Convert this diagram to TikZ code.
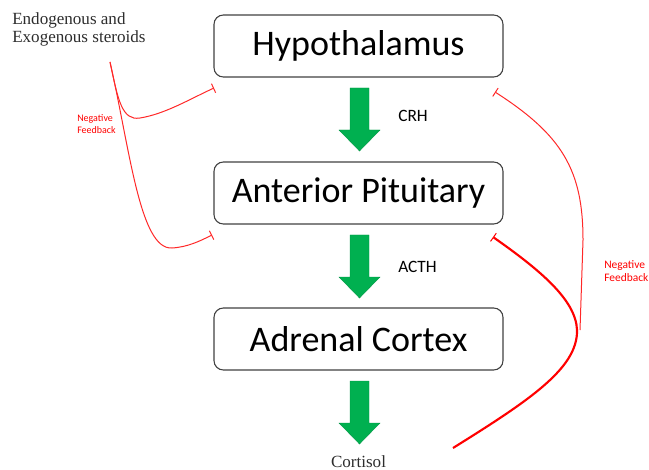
\documentclass[tikz,border=0pt]{standalone}
\usepackage{fontspec}
\setmainfont{Liberation Serif}
\newfontfamily\calib{Carlito}
\usetikzlibrary{arrows.meta}

\definecolor{arrowgreen}{RGB}{0,176,80}
\definecolor{boxline}{RGB}{64,64,64}
\definecolor{fbred}{RGB}{255,40,40}
\definecolor{darktext}{RGB}{45,45,45}

\tikzstyle{organ}=[draw=boxline, line width=0.8pt, rounded corners=7pt, minimum width=216.75pt, minimum height=46.5pt, inner sep=0pt, font=\calib\fontsize{27}{32}\selectfont]
\tikzstyle{hormone}=[anchor=west, inner sep=0pt, font=\calib\fontsize{13}{15}\selectfont]
\tikzstyle{serif label}=[inner sep=0pt, text=darktext, font=\fontsize{12.8}{14}\selectfont]
\tikzstyle{fb label}=[text=red, align=left, inner sep=0pt, anchor=north west]
\tikzstyle{green arrow}=[fill=arrowgreen, draw=arrowgreen!85!black, line width=0.3pt]
\tikzstyle{feedback} = [draw, fbred, line width=0.75pt, -{Bar[width=7.5pt]}]
\tikzstyle{strong feedback} = [draw, red, line width=1.6pt, -{Bar[width=7.5pt,line width=0.75pt]}]

\begin{document}
\begin{tikzpicture}[x=0.75pt, y=-0.75pt]
	\useasboundingbox (0,0) rectangle (649,470);
	% boxes
	\foreach \pos/\name/\txt in {{(358.5,46)/hyp/Hypothalamus}, {(358.5,193)/pit/Anterior Pituitary}, {(358.5,339)/adr/Adrenal Cortex}}
		\node[organ] (\name) at \pos {\txt};
	% green arrows
	\foreach \y in {88, 235, 381}
		\path[green arrow] (350,\y) -- (369,\y) -- (369,{\y+42}) -- (380,{\y+42}) -- (359.5,{\y+63}) -- (339,{\y+42}) -- (350,{\y+42}) -- cycle;
	\node[hormone] (crh) at (398,116) {CRH};
	\node[hormone] (acth) at (398,267) {ACTH};
	\node[serif label, anchor=base] (cortisol) at (358.5,467) {Cortisol};
	\node[serif label, anchor=north west, align=left] (steroids) at (12,12) {Endogenous and\\Exogenous steroids};
	\node[fb label, font=\calib\fontsize{7.5}{9}\selectfont] (nfleft) at (77,114) {Negative\\Feedback};
	\node[fb label, font=\calib\fontsize{8.6}{10}\selectfont] (nfright) at (604,260) {Negative\\Feedback};
	% ends of the feedback lines
	\coordinate (src) at (110,62);
	\coordinate (hypleft) at (214,88);
	\coordinate (pitleft) at (212,235);
	\coordinate (hypright) at (495,92);
	\coordinate (pitright) at (493,237);
	\coordinate (meet) at (580,330);
	\coordinate (cort) at (453,448);
	% feedback
	\path[feedback] (src) .. controls (118,100) and (122,121) .. (140,118) .. controls (165,114) and (190,99) .. (hypleft);
	\path[feedback] (src) .. controls (130,150) and (140,250) .. (172,248) .. controls (188,247) and (200,241) .. (pitleft);
	\path[feedback] (meet) -- (583,240) .. controls (583,170) and (562,135) .. (hypright);
	\path[strong feedback] (cort) .. controls (530,400) and (578,368) .. (577,330) .. controls (576,300) and (540,270) .. (pitright);
\end{tikzpicture}
\end{document}
